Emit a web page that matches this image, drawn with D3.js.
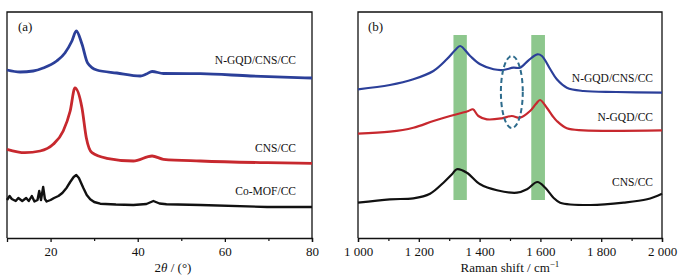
<!DOCTYPE html>
<html>
<head>
<meta charset="utf-8">
<script src="https://cdn.jsdelivr.net/npm/d3@7"></script>
<style>
  body { margin: 0; background: #fff; }
  text { font-family: "Liberation Serif", "DejaVu Serif", serif; fill: #111; }
</style>
</head>
<body>
<div id="chart"></div>
<script>
// XRD data (2theta, intensity a.u.)
var xrdBlue = [[10,168],[13,166],[16,167],[18.3,170],[21.4,177],[23.3,185],[24.9,197],[25.9,207],[27.2,194],[28.5,175],[30.6,168],[35.2,165],[40.6,162],[42,164],[43.3,166.5],[45.9,164.5],[54.4,164.3],[65.9,162],[80,160]];
var xrdRed = [[10,88.7],[14.1,85.3],[17.6,87],[20.6,93.7],[22.9,107],[24.5,127],[25.6,150],[27.2,130.3],[28.2,100.3],[29.5,85.3],[32.9,79.7],[39,77],[43.3,82],[45.9,78.7],[54.4,77],[69.7,75.3],[80,74.7]];
var xrdBlack = [[10,38],[10.6,42],[11.1,39],[12,37],[12.6,40],[13.5,37],[14.4,40],[15,37],[15.7,42],[16.3,36.5],[17,38],[17.4,47],[17.8,38],[18.3,51],[18.7,39],[19.1,36.5],[20,38],[20.8,40],[21.8,42],[22.7,45],[23.7,50.3],[24.5,56],[25.3,61],[25.9,63],[26.5,60],[27.5,50.3],[28.3,43],[29.1,38.7],[30,36],[31.4,34.3],[35,33.5],[39,33],[42,34],[43.6,37],[45,34.5],[46.6,33.7],[54.4,33],[69.7,31],[80,31]];
var xrdLabels = ["N-GQD/CNS/CC", "CNS/CC", "Co-MOF/CC"];
var xrdTicks = [20, 40, 60, 80];

// Raman data (shift, intensity a.u.)
var ramanBlue = [[1000,148.7],[1105,153],[1182,158.7],[1248,167],[1292,178.7],[1320,188],[1336,192],[1369,182],[1402,173.7],[1446,168.7],[1478,168],[1511,170.3],[1533,170.3],[1561,177.7],[1590,183.7],[1605,182],[1632,169],[1654,158.7],[1687,150.3],[1742,147],[1850,146],[2000,145.3]];
var ramanRed = [[1000,104.3],[1105,106.3],[1182,110.3],[1248,117],[1303,122],[1340,125],[1363,127],[1378,128.7],[1396,122],[1424,118.7],[1473,119.7],[1506,122],[1533,120.3],[1566,127],[1585,134],[1599,138],[1621,130.3],[1640,122],[1654,117],[1687,109.7],[1742,107.7],[2000,107.7]];
var ramanBlack = [[1000,35.3],[1105,38.7],[1182,39.7],[1237,44.3],[1281,55.3],[1310,64],[1325,68.7],[1358,65.3],[1402,53.7],[1457,47.7],[1523,45.3],[1556,48.7],[1590,56],[1616,50.3],[1643,40.3],[1665,35.3],[1764,33],[1874,35.3],[1951,38.7],[2000,44.3]];
var ramanLabels = ["N-GQD/CNS/CC", "N-GQD/CC", "CNS/CC"];
var ramanTicks = [1000, 1200, 1400, 1600, 1800, 2000];
// D and G band highlights [from, to, bottom, top]
var bands = [[1314, 1358, 38, 203], [1570, 1615, 38, 203]];
// dashed ellipse [cx, cy, rx(data), ry(data)]
var ellipse = [1506, 146, 36, 36];

var W = 683, H = 279;
var yTop = 12, yBottom = 238;
var serif = "Liberation Serif, DejaVu Serif, serif";

var svg = d3.select("#chart").append("svg")
  .attr("width", W).attr("height", H);

function panel(x0, x1, xDomain, ticks, minors, fmt) {
  var x = d3.scaleLinear().domain(xDomain).range([x0, x1]);
  var y = d3.scaleLinear().domain([0, 226]).range([yBottom, yTop]);
  var g = svg.append("g");
  // frame
  g.append("path")
    .attr("d", "M" + x0 + "," + yBottom + "V" + yTop + "H" + x1 + "V" + yBottom)
    .attr("fill", "none").attr("stroke", "#111").attr("stroke-width", 1.3);
  // minor ticks
  g.append("g").attr("transform", "translate(0," + yBottom + ")")
    .call(d3.axisBottom(x).tickValues(minors).tickSize(3).tickFormat(""))
    .call(function (a) { a.select(".domain").remove(); })
    .selectAll("line").attr("stroke", "#111").attr("stroke-width", 1.2);
  var ax = g.append("g").attr("transform", "translate(0," + yBottom + ")")
    .call(d3.axisBottom(x).tickValues(ticks).tickSize(4).tickPadding(5).tickFormat(fmt));
  ax.select(".domain").attr("stroke", "#111").attr("stroke-width", 1.3);
  ax.selectAll("line").attr("stroke", "#111").attr("stroke-width", 1.3);
  ax.selectAll("text").attr("font-size", 13)
    .attr("font-family", serif).attr("fill", "#111");
  return { g: g, x: x, y: y };
}

function line(p, data, color, w, curve) {
  p.g.append("path").datum(data)
    .attr("fill", "none").attr("stroke", color).attr("stroke-width", w)
    .attr("stroke-linejoin", "round")
    .attr("d", d3.line().x(function (d) { return p.x(d[0]); })
      .y(function (d) { return p.y(d[1]); }).curve(curve));
}

var blue = "#2b3f99", red = "#c7282e", black = "#111";

// ---- (a) XRD
var a = panel(7, 312, [10, 80], xrdTicks, [30, 50, 70], d3.format("d"));
line(a, xrdBlue, blue, 2.8, d3.curveMonotoneX);
line(a, xrdRed, red, 2.8, d3.curveMonotoneX);
line(a, xrdBlack, black, 2.4, d3.curveLinear);
a.g.append("text").attr("x", 18).attr("y", 31).attr("font-size", 13).attr("font-family", serif).text("(a)");
var aLabY = [64, 151.5, 195];
a.g.selectAll(".lab").data(xrdLabels).enter().append("text")
  .attr("x", 296).attr("y", function (d, i) { return aLabY[i]; })
  .attr("text-anchor", "end").attr("font-size", 11.5).attr("font-family", serif)
  .text(function (d) { return d; });
var at = a.g.append("text").attr("x", 173).attr("y", 272).attr("text-anchor", "middle")
  .attr("font-size", 13).attr("font-family", serif);
at.append("tspan").text("2");
at.append("tspan").attr("font-style", "italic").text("\u03B8");
at.append("tspan").text(" / (\u00B0)");

// ---- (b) Raman
var fmtSpace = function (d) { return d3.format(",")(d).replace(",", " "); };
var b = panel(358, 662, [1000, 2000], ramanTicks, [1100, 1300, 1500, 1700, 1900], fmtSpace);
b.g.selectAll(".band").data(bands).enter().append("rect")
  .attr("x", function (d) { return b.x(d[0]); })
  .attr("width", function (d) { return b.x(d[1]) - b.x(d[0]); })
  .attr("y", function (d) { return b.y(d[3]); })
  .attr("height", function (d) { return b.y(d[2]) - b.y(d[3]); })
  .attr("fill", "#8dc78d");
line(b, ramanBlue, blue, 2.2, d3.curveCatmullRom);
line(b, ramanRed, red, 2.2, d3.curveCatmullRom);
line(b, ramanBlack, black, 2.2, d3.curveCatmullRom);
b.g.append("ellipse")
  .attr("cx", b.x(ellipse[0])).attr("cy", b.y(ellipse[1]))
  .attr("rx", b.x(ellipse[0] + ellipse[2]) - b.x(ellipse[0]))
  .attr("ry", b.y(ellipse[1] - ellipse[3]) - b.y(ellipse[1]))
  .attr("fill", "none").attr("stroke", "#2d6b8c").attr("stroke-width", 2)
  .attr("stroke-dasharray", "5,3");
b.g.append("text").attr("x", 368).attr("y", 31).attr("font-size", 13).attr("font-family", serif).text("(b)");
var bLabY = [81.5, 120.5, 185.5];
b.g.selectAll(".lab").data(ramanLabels).enter().append("text")
  .attr("x", 653).attr("y", function (d, i) { return bLabY[i]; })
  .attr("text-anchor", "end").attr("font-size", 11.5).attr("font-family", serif)
  .text(function (d) { return d; });
var bt = b.g.append("text").attr("x", 510).attr("y", 272).attr("text-anchor", "middle")
  .attr("font-size", 13).attr("font-family", serif);
bt.append("tspan").text("Raman shift / cm");
bt.append("tspan").attr("font-size", 9).attr("dy", -5).text("\u22121");
</script>
</body>
</html>
